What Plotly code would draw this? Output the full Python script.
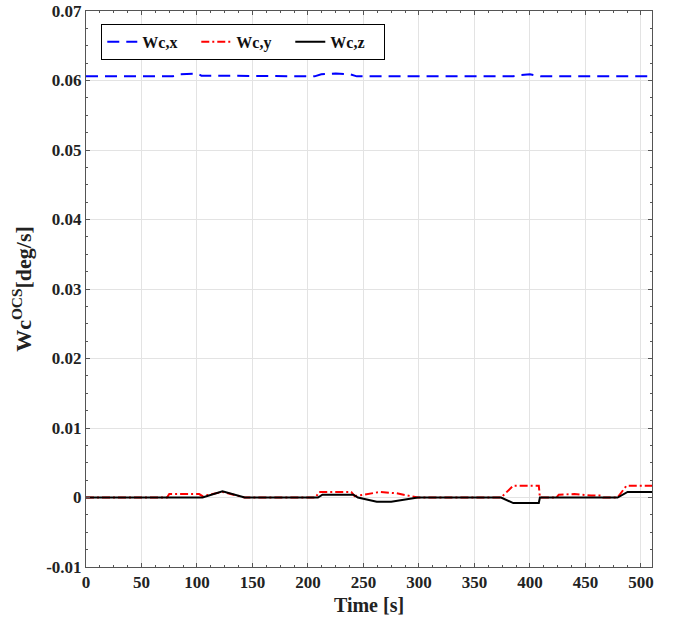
import plotly.graph_objects as go

# Time breakpoints [s] and angular-rate components [deg/s]
t_x = [0, 78, 85, 92, 100, 104, 206, 212, 225, 238, 244, 385, 392, 400, 405, 410, 510]
wc_x = [0.0606, 0.0606, 0.0609, 0.0609, 0.0610, 0.0607, 0.0606, 0.0609, 0.0610, 0.0609,
        0.0606, 0.0606, 0.0608, 0.0609, 0.0608, 0.0606, 0.0606]

t_y = [0, 73, 75, 102, 105, 113, 123, 133, 143, 207, 210, 239, 242, 250, 265, 280, 299,
       374, 385, 408, 409, 424, 426, 440, 455, 464, 466, 479, 487, 510]
wc_y = [0, 0, 0.0005, 0.0005, 0.0002, 0.0005, 0.0008, 0.0004, 0, 0, 0.0008, 0.0008, 0.0002,
        0.0004, 0.0008, 0.0006, 0, 0, 0.0017, 0.0017, 0, 0, 0.0004, 0.0005, 0.0003, 0.0003,
        0, 0, 0.0017, 0.0017]

t_z = [0, 105, 123, 143, 209, 213, 241, 245, 262, 275, 299, 374, 385, 408, 409, 479, 488, 510]
wc_z = [0, 0, 0.0009, 0, 0, 0.0004, 0.0004, 0, -0.0006, -0.0006, 0, 0, -0.0008, -0.0008,
        0, 0, 0.0008, 0.0008]

x_ticks = [0, 50, 100, 150, 200, 250, 300, 350, 400, 450, 500]
y_ticks = [-0.01, 0, 0.01, 0.02, 0.03, 0.04, 0.05, 0.06, 0.07]
y_tick_text = ["-0.01", "0", "0.01", "0.02", "0.03", "0.04", "0.05", "0.06", "0.07"]

FONT = "Liberation Serif"

fig = go.Figure()
fig.add_trace(go.Scatter(x=t_x, y=wc_x, mode="lines", name="<b>Wc,x</b>",
                         line=dict(color="#0000ff", width=2, dash="12px,7px")))
fig.add_trace(go.Scatter(x=t_y, y=wc_y, mode="lines", name="<b>Wc,y</b>",
                         line=dict(color="#ff0000", width=2, dash="8px,3px,2px,3px")))
fig.add_trace(go.Scatter(x=t_z, y=wc_z, mode="lines", name="<b>Wc,z</b>",
                         line=dict(color="#000000", width=2)))

axis_common = dict(
    showgrid=True, gridcolor="#e3e3e3", gridwidth=1,
    showline=True, linecolor="#555555", linewidth=1, mirror="ticks",
    ticks="inside", ticklen=4, tickcolor="#555555",
    zeroline=False, automargin=False,
    tickfont=dict(family=FONT, size=17, color="#222222"),
)

fig.update_xaxes(
    range=[0, 510], tickvals=x_ticks, ticktext=[f"<b>{v}</b>" for v in x_ticks],
    minor=dict(ticks="inside", dtick=12.5, ticklen=2, tickcolor="#555555", showgrid=False),
    title=dict(text="<b>Time [s]</b>", font=dict(family=FONT, size=20, color="#222222"),
               standoff=6),
    **axis_common,
)
fig.update_yaxes(
    range=[-0.01, 0.07], tickvals=y_ticks, ticktext=[f"<b>{v}</b>" for v in y_tick_text],
    minor=dict(ticks="inside", dtick=0.0025, ticklen=2, tickcolor="#555555", showgrid=False),
    title=dict(text="<b>Wc<sup>OCS</sup>[deg/s]</b>",
               font=dict(family=FONT, size=22, color="#222222"), standoff=8),
    **axis_common,
)

fig.update_layout(
    width=676, height=621,
    margin=dict(l=86, r=24, t=11, b=54),
    paper_bgcolor="white", plot_bgcolor="white",
    showlegend=True,
    legend=dict(
        orientation="h", x=0.027, y=0.977, xanchor="left", yanchor="top",
        bgcolor="white", bordercolor="#000000", borderwidth=1,
        font=dict(family=FONT, size=16, color="#111111"),
        itemwidth=30, tracegroupgap=0,
        entrywidth=49, entrywidthmode="pixels",
    ),
)

fig.write_html("out.html")
